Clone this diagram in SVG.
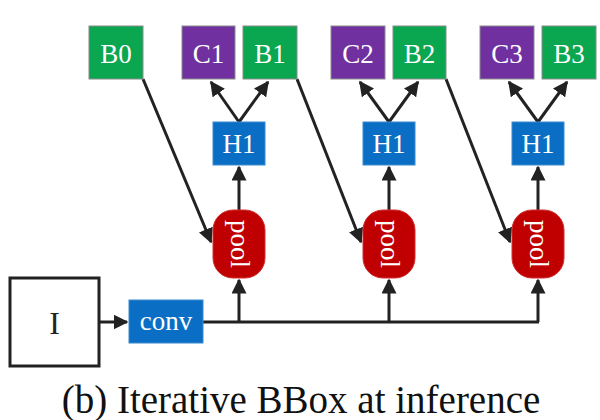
<svg xmlns="http://www.w3.org/2000/svg" width="600" height="420" viewBox="0 0 600 420">
<defs>
<style>
.g{fill:#0aa650;stroke:#8a8a8a;stroke-width:1}
.p{fill:#7030a0;stroke:#8a8a8a;stroke-width:1}
.b{fill:#0a6fc4;stroke:#3a8ad0;stroke-width:1}
.r{fill:#c00000;stroke:#d03030;stroke-width:1}
text{font-family:"Liberation Serif","Times New Roman",Times,"DejaVu Serif",serif}
.t{font-size:27px;fill:#fff;text-anchor:middle}
.ln{stroke:#222;stroke-width:3;fill:none}
.a{stroke:#222;stroke-width:3;fill:none;marker-end:url(#ah)}
</style>
<marker id="ah" viewBox="0 0 10 10" refX="9" refY="5" markerWidth="5" markerHeight="5" orient="auto" markerUnits="strokeWidth">
<path d="M0,0 L10,5 L0,10 Z" fill="#222"/>
</marker>
</defs>
<rect width="600" height="420" fill="#fff"/>
<g id="connectors">
<path class="a" d="M99,322 L127,322"/>
<path class="ln" d="M203,322 L539,322"/>
<path class="a" d="M239,322 L239,280"/>
<path class="a" d="M389,322 L389,280"/>
<path class="a" d="M538,322 L538,280"/>
<path class="a" d="M239,210 L239,167"/>
<path class="a" d="M389,210 L389,167"/>
<path class="a" d="M538,210 L538,167"/>
<path class="a" d="M239,122 L211,82"/>
<path class="a" d="M239,122 L268,82"/>
<path class="a" d="M389,122 L360,82"/>
<path class="a" d="M389,122 L418,82"/>
<path class="a" d="M538,122 L509,82"/>
<path class="a" d="M538,122 L567,82"/>
<path class="a" d="M143,79 L211,242"/>
<path class="a" d="M297,79 L361,242"/>
<path class="a" d="M446,79 L510,242"/>
</g>
<g id="B0"><rect class="g" x="89" y="26" width="54" height="53"/><text class="t" x="116" y="63">B0</text></g>
<g id="C1"><rect class="p" x="182" y="26" width="53" height="53"/><text class="t" x="208.5" y="63">C1</text></g>
<g id="B1"><rect class="g" x="243" y="26" width="54" height="53"/><text class="t" x="270" y="63">B1</text></g>
<g id="C2"><rect class="p" x="331" y="26" width="54" height="53"/><text class="t" x="358" y="63">C2</text></g>
<g id="B2"><rect class="g" x="393" y="26" width="53" height="53"/><text class="t" x="419.5" y="63">B2</text></g>
<g id="C3"><rect class="p" x="480" y="26" width="54" height="53"/><text class="t" x="507" y="63">C3</text></g>
<g id="B3"><rect class="g" x="542" y="26" width="54" height="53"/><text class="t" x="569" y="63">B3</text></g>
<g id="H1a"><rect class="b" x="213" y="122" width="52" height="43"/><text class="t" x="239" y="153">H1</text></g>
<g id="H1b"><rect class="b" x="363" y="122" width="52" height="43"/><text class="t" x="389" y="153">H1</text></g>
<g id="H1c"><rect class="b" x="512" y="122" width="52" height="43"/><text class="t" x="538" y="153">H1</text></g>
<g id="pool1"><rect class="r" x="213" y="210" width="52" height="68" rx="20" ry="20"/><text class="t" transform="translate(239,244) rotate(90)" y="8">pool</text></g>
<g id="pool2"><rect class="r" x="363" y="210" width="52" height="68" rx="20" ry="20"/><text class="t" transform="translate(389,244) rotate(90)" y="8">pool</text></g>
<g id="pool3"><rect class="r" x="512" y="210" width="52" height="68" rx="20" ry="20"/><text class="t" transform="translate(538,244) rotate(90)" y="8">pool</text></g>
<g id="I"><rect x="10" y="278" width="89" height="88" fill="#fff" stroke="#222" stroke-width="3"/><text x="54.5" y="334" font-size="32" fill="#222" text-anchor="middle">I</text></g>
<g id="conv"><rect class="b" x="129" y="300" width="74" height="43"/><text class="t" x="166" y="330">conv</text></g>
<text x="301" y="413" font-size="39" fill="#111" text-anchor="middle">(b) Iterative BBox at inference</text>
</svg>
